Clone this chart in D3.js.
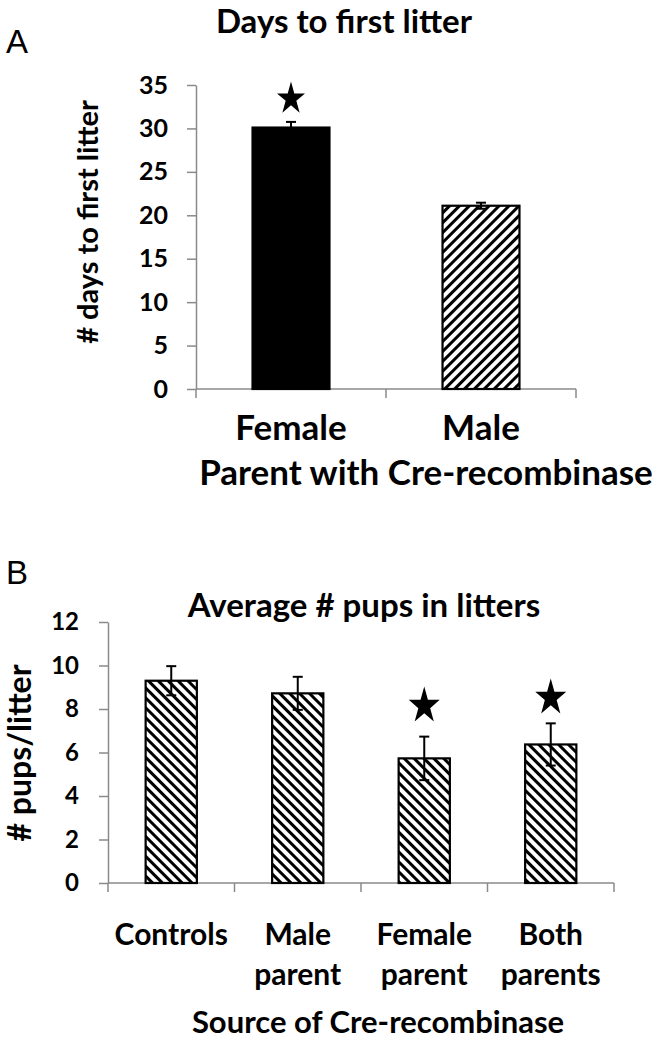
<!DOCTYPE html>
<html>
<head>
<meta charset="utf-8">
<script src="https://cdn.jsdelivr.net/npm/d3@7/dist/d3.min.js"></script>
<style>
  body { margin: 0; background: #fff; }
  svg text { font-family: Lato, "Open Sans", sans-serif; font-weight: 700; fill: #000; }
  .panel-letter { font-family: "Liberation Sans", Arial, sans-serif; font-weight: 400; }
</style>
</head>
<body>
<div id="chart"></div>
<script>
// Panel A: days to first litter, by parent carrying Cre
var catsA = ["Female", "Male"];
var daysA = [30.1, 21.1];
var daysErrA = [0.65, 0.35];
var fillsA = ["solid", "hatchUp"];
var ticksA = [0, 5, 10, 15, 20, 25, 30, 35];
var starsA = [{ cat: "Female", at: 33.6 }];

// Panel B: average pups per litter, by source of Cre
var catsB = ["Controls", "Male parent", "Female parent", "Both parents"];
var pupsB = [9.3, 8.72, 5.73, 6.37];
var pupsErrB = [0.67, 0.76, 1.0, 0.97];
var fillsB = ["hatchDown", "hatchDown", "hatchDown", "hatchDown"];
var ticksB = [0, 2, 4, 6, 8, 10, 12];
var starsB = [{ cat: "Female parent", at: 8.23 }, { cat: "Both parents", at: 8.6 }];

var width = 652, height = 1042;
var axisColor = "#8a8a8a";

var svg = d3.select("#chart")
  .append("svg")
    .attr("width", width)
    .attr("height", height);

// Hatch patterns: "/" for panel A, "\" for panel B
var defs = svg.append("defs");
function hatch(id, angle) {
  var p = defs.append("pattern")
    .attr("id", id)
    .attr("patternUnits", "userSpaceOnUse")
    .attr("width", 7)
    .attr("height", 7)
    .attr("patternTransform", "rotate(" + angle + ")");
  p.append("rect").attr("width", 7).attr("height", 7).attr("fill", "#fff");
  p.append("line")
    .attr("x1", 1.5).attr("y1", -1).attr("x2", 1.5).attr("y2", 8)
    .attr("stroke", "#000").attr("stroke-width", 3);
}
hatch("hatchUp", 45);
hatch("hatchDown", -45);

// Five-point star, optionally stretched vertically
function starPath(r, sy) {
  var pts = [];
  for (var i = 0; i < 10; i++) {
    var rad = i % 2 ? r * 0.382 : r;
    var a = Math.PI * i / 5;
    pts.push([rad * Math.sin(a), -rad * Math.cos(a) * sy]);
  }
  return "M" + pts.join("L") + "Z";
}

function drawPanel(o) {
  var g = svg.append("g");

  var y = d3.scaleLinear().domain([0, o.ticks[o.ticks.length - 1]]).range([o.bottom, o.top]);
  var x = d3.scaleBand().domain(o.cats).range([o.left, o.right]);
  var barW = x.bandwidth() * o.barFrac;

  // y axis
  var yAxis = g.append("g")
    .attr("transform", "translate(" + o.left + ",0)")
    .call(d3.axisLeft(y).tickValues(o.ticks).tickSize(9).tickPadding(o.tickPad).tickSizeOuter(0));
  yAxis.select(".domain").attr("stroke", axisColor).attr("stroke-width", 1.5);
  yAxis.selectAll(".tick line").attr("stroke", axisColor).attr("stroke-width", 1.5);
  yAxis.selectAll(".tick text")
    .attr("font-family", null)
    .attr("font-size", null)
    .style("font-size", o.tickFont + "px");

  // x axis: line with ticks at category boundaries
  g.append("line")
    .attr("x1", o.left).attr("x2", o.right)
    .attr("y1", y(0)).attr("y2", y(0))
    .attr("stroke", axisColor).attr("stroke-width", 1.5);
  var edges = o.cats.map(function(c) { return x(c); }).concat([o.right]);
  g.selectAll(".xtick")
    .data(edges)
    .enter()
    .append("line")
      .attr("x1", function(d) { return d; })
      .attr("x2", function(d) { return d; })
      .attr("y1", y(0))
      .attr("y2", y(0) + 9)
      .attr("stroke", axisColor)
      .attr("stroke-width", 1.5);

  // bars
  g.selectAll(".bar")
    .data(o.cats)
    .enter()
    .append("rect")
      .attr("x", function(d) { return x(d) + (x.bandwidth() - barW) / 2; })
      .attr("width", barW)
      .attr("y", function(d, i) { return y(o.values[i]); })
      .attr("height", function(d, i) { return y(0) - y(o.values[i]); })
      .attr("fill", function(d, i) { return o.fills[i] === "solid" ? "#000" : "url(#" + o.fills[i] + ")"; })
      .attr("stroke", "#000")
      .attr("stroke-width", 2.2);

  // error bars
  var eb = g.selectAll(".err")
    .data(o.cats)
    .enter()
    .append("g")
      .attr("transform", function(d) { return "translate(" + (x(d) + x.bandwidth() / 2) + ",0)"; });
  eb.append("line")
    .attr("y1", function(d, i) { return y(o.values[i] - o.errors[i]); })
    .attr("y2", function(d, i) { return y(o.values[i] + o.errors[i]); })
    .attr("stroke", "#000").attr("stroke-width", 2);
  [1, -1].forEach(function(s) {
    eb.append("line")
      .attr("x1", -5).attr("x2", 5)
      .attr("y1", function(d, i) { return y(o.values[i] + s * o.errors[i]); })
      .attr("y2", function(d, i) { return y(o.values[i] + s * o.errors[i]); })
      .attr("stroke", "#000").attr("stroke-width", 2);
  });

  // significance stars
  g.selectAll(".star")
    .data(o.stars)
    .enter()
    .append("path")
      .attr("d", starPath(o.starR, o.starSy))
      .attr("transform", function(d) {
        return "translate(" + (x(d.cat) + x.bandwidth() / 2) + "," + (y(d.at) + 0.0955 * o.starR * o.starSy) + ")";
      })
      .attr("fill", "#000");

  // category labels
  var cl = g.selectAll(".cat")
    .data(o.cats)
    .enter()
    .append("text")
      .attr("text-anchor", "middle")
      .attr("x", function(d) { return x(d) + x.bandwidth() / 2; })
      .attr("y", o.catY)
      .style("font-size", o.catFont + "px");
  cl.each(function(d) {
    var words = o.splitCats ? d.split(" ") : [d];
    var t = d3.select(this);
    words.forEach(function(w, k) {
      t.append("tspan")
        .attr("x", t.attr("x"))
        .attr("dy", k === 0 ? 0 : o.catLine)
        .text(w);
    });
  });

  // titles
  g.append("text")
    .attr("x", o.titleX).attr("y", o.titleY)
    .attr("text-anchor", "middle")
    .style("font-size", o.titleFont + "px")
    .text(o.title);
  g.append("text")
    .attr("x", o.xTitleX).attr("y", o.xTitleY)
    .attr("text-anchor", "middle")
    .style("font-size", o.xTitleFont + "px")
    .text(o.xTitle);
  g.append("text")
    .attr("transform", "translate(" + o.yTitleX + "," + o.yTitleY + ") rotate(-90)")
    .attr("text-anchor", "middle")
    .style("font-size", o.yTitleFont + "px")
    .text(o.yTitle);
  g.append("text")
    .attr("class", "panel-letter")
    .attr("x", 6).attr("y", o.letterY)
    .style("font-size", "33px")
    .text(o.letter);
}

drawPanel({
  letter: "A", letterY: 53,
  cats: catsA, values: daysA, errors: daysErrA, fills: fillsA, ticks: ticksA, stars: starsA,
  left: 196, right: 576, top: 85, bottom: 389, barFrac: 0.405,
  tickPad: 19, tickFont: 25,
  starR: 14.7, starSy: 1.17,
  catY: 440, catFont: 35, splitCats: false, catLine: 0,
  title: "Days to first litter", titleX: 344, titleY: 33, titleFont: 33,
  xTitle: "Parent with Cre-recombinase", xTitleX: 426, xTitleY: 485, xTitleFont: 35,
  yTitle: "# days to first litter", yTitleX: 98, yTitleY: 222, yTitleFont: 29
});

drawPanel({
  letter: "B", letterY: 584,
  cats: catsB, values: pupsB, errors: pupsErrB, fills: fillsB, ticks: ticksB, stars: starsB,
  left: 108, right: 614, top: 622, bottom: 883, barFrac: 0.405,
  tickPad: 20, tickFont: 24,
  starR: 16.3, starSy: 1.19,
  catY: 945, catFont: 30, splitCats: true, catLine: 40,
  title: "Average # pups in litters", titleX: 364, titleY: 617, titleFont: 33,
  xTitle: "Source of Cre-recombinase", xTitleX: 378, xTitleY: 1033, xTitleFont: 31,
  yTitle: "# pups/litter", yTitleX: 31, yTitleY: 753, yTitleFont: 32
});
</script>
</body>
</html>
